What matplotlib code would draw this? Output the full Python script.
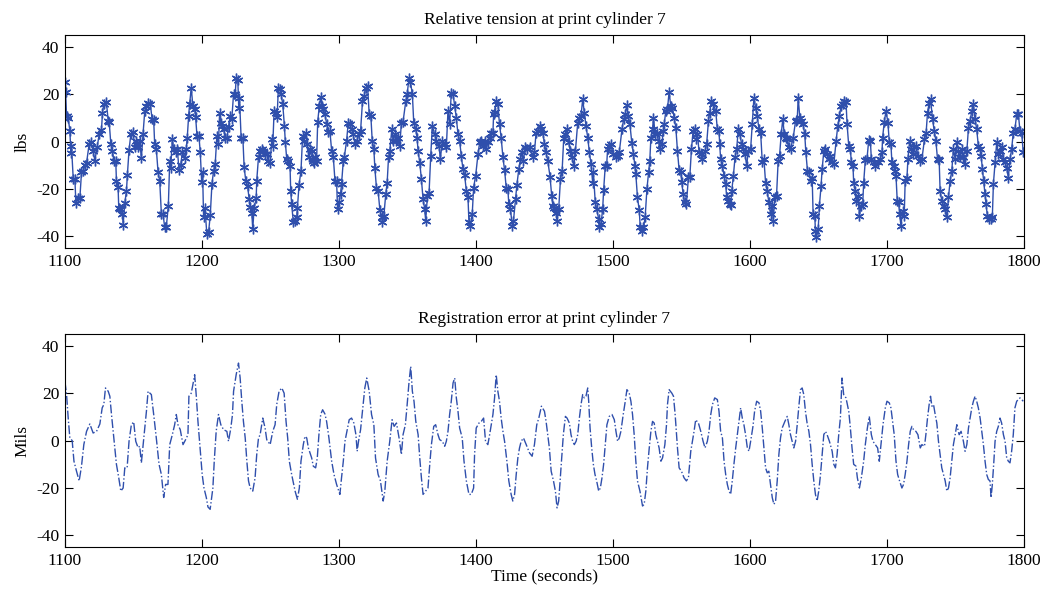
import matplotlib
matplotlib.use("Agg")
import matplotlib.pyplot as plt

# relative tension (lbs)
tension_t = [
    1100.0, 1100.5, 1101.2, 1102.4, 1103.6, 1104.4, 1104.8, 1106.1, 1107.3, 1108.0,
    1109.7, 1110.9, 1112.1, 1113.3, 1114.6, 1115.8, 1117.7, 1118.7, 1120.6, 1121.8,
    1123.5, 1125.0, 1126.7, 1127.4, 1128.4, 1130.3, 1131.6, 1132.3, 1133.5, 1134.7,
    1135.7, 1137.1, 1137.6, 1138.8, 1139.3, 1140.5, 1142.0, 1142.5, 1143.7, 1144.9,
    1145.6, 1146.8, 1148.1, 1149.8, 1151.0, 1152.2, 1153.4, 1154.6, 1155.8, 1157.0,
    1158.3, 1159.5, 1160.7, 1162.4, 1163.6, 1164.8, 1165.5, 1166.7, 1168.0, 1169.2,
    1170.4, 1171.6, 1172.8, 1174.0, 1175.5, 1176.5, 1177.2, 1178.4, 1179.4, 1180.8,
    1182.0, 1183.3, 1184.5, 1185.7, 1187.4, 1188.6, 1189.3, 1190.3, 1191.0, 1192.2,
    1193.4, 1194.7, 1195.4, 1196.4, 1197.8, 1198.8, 1199.8, 1200.5, 1201.2, 1202.2,
    1203.6, 1204.9, 1206.1, 1207.3, 1208.5, 1209.7, 1210.9, 1212.1, 1212.9, 1213.8,
    1214.6, 1215.8, 1217.0, 1218.2, 1219.4, 1220.6, 1221.8, 1223.1, 1224.3, 1225.0,
    1226.2, 1226.9, 1227.4, 1228.6, 1229.9, 1230.8, 1232.0, 1233.3, 1234.5, 1235.2,
    1236.4, 1237.1, 1238.1, 1239.6, 1240.0, 1241.3, 1242.5, 1243.7, 1244.9, 1246.1,
    1247.3, 1248.5, 1249.8, 1251.0, 1251.7, 1252.7, 1253.9, 1254.9, 1255.8, 1257.0,
    1257.8, 1259.0, 1260.2, 1260.9, 1261.9, 1263.1, 1264.3, 1264.8, 1265.5, 1266.7,
    1268.0, 1269.2, 1269.7, 1270.9, 1272.3, 1273.5, 1274.5, 1276.0, 1276.9, 1277.9,
    1278.9, 1280.1, 1280.8, 1281.8, 1282.5, 1283.7, 1284.5, 1285.7, 1286.7, 1287.6,
    1288.6, 1289.8, 1291.0, 1292.2, 1293.4, 1294.7, 1295.9, 1297.1, 1298.3, 1299.0,
    1300.0, 1301.2, 1301.9, 1303.2, 1303.9, 1305.6, 1306.8, 1308.0, 1309.2, 1310.4,
    1311.7, 1312.9, 1314.8, 1315.8, 1317.2, 1318.4, 1319.7, 1320.9, 1322.1, 1323.3,
    1324.3, 1325.5, 1326.2, 1327.4, 1328.6, 1329.9, 1331.1, 1331.8, 1332.8, 1334.2,
    1335.2, 1336.2, 1337.1, 1338.6, 1339.6, 1340.8, 1342.0, 1343.2, 1344.4, 1345.6,
    1346.8, 1348.8, 1349.8, 1351.2, 1352.2, 1353.6, 1354.6, 1356.1, 1357.0, 1357.8,
    1359.0, 1360.2, 1361.4, 1362.6, 1363.3, 1364.6, 1365.8, 1367.0, 1368.2, 1369.9,
    1371.1, 1373.1, 1374.0, 1375.5, 1377.2, 1378.4, 1379.6, 1380.8, 1382.0, 1383.3,
    1384.5, 1385.7, 1386.9, 1388.1, 1389.3, 1390.5, 1391.7, 1393.0, 1394.2, 1394.9,
    1395.9, 1397.3, 1398.3, 1399.8, 1401.5, 1402.7, 1403.9, 1405.1, 1406.3, 1407.5,
    1408.7, 1410.0, 1411.2, 1412.4, 1412.9, 1413.6, 1414.8, 1416.0, 1417.2, 1418.4,
    1419.7, 1420.9, 1422.1, 1423.3, 1424.0, 1425.2, 1426.5, 1427.4, 1428.9, 1429.9,
    1431.3, 1432.5, 1433.5, 1434.7, 1435.9, 1437.4, 1439.1, 1441.5, 1442.7, 1443.9,
    1445.1, 1446.4, 1447.6, 1448.8, 1450.0, 1451.2, 1452.4, 1454.1, 1455.3, 1456.1,
    1457.3, 1458.5, 1459.2, 1460.4, 1461.7, 1462.9, 1464.1, 1465.3, 1466.5, 1467.7,
    1468.9, 1470.1, 1471.4, 1472.6, 1474.3, 1475.5, 1476.7, 1477.9, 1479.1, 1480.3,
    1481.6, 1482.8, 1484.0, 1485.2, 1485.7, 1487.1, 1488.1, 1489.6, 1490.0, 1491.3,
    1492.5, 1493.2, 1494.4, 1495.4, 1496.1, 1497.3, 1498.5, 1500.2, 1502.2, 1503.4,
    1504.6, 1506.6, 1507.8, 1509.0, 1510.0, 1511.2, 1512.4, 1513.8, 1515.0, 1516.0,
    1516.7, 1517.9, 1519.2, 1519.9, 1521.1, 1522.3, 1523.5, 1524.8, 1526.0, 1526.9,
    1527.7, 1528.9, 1529.6, 1530.8, 1532.0, 1533.3, 1534.2, 1535.7, 1536.7, 1537.4,
    1538.6, 1539.8, 1541.0, 1542.2, 1543.4, 1544.7, 1545.9, 1547.1, 1548.3, 1549.5,
    1550.2, 1551.2, 1552.4, 1553.6, 1555.1, 1556.1, 1557.3, 1558.5, 1560.0, 1560.9,
    1561.7, 1562.9, 1564.1, 1565.3, 1567.2, 1568.4, 1569.7, 1570.6, 1571.8, 1573.3,
    1575.0, 1576.2, 1577.4, 1577.9, 1578.6, 1579.9, 1581.1, 1582.3, 1583.0, 1584.2,
    1585.2, 1585.9, 1586.7, 1587.9, 1589.1, 1590.3, 1591.5, 1592.7, 1593.9, 1595.1,
    1596.4, 1597.6, 1598.8, 1600.5, 1601.7, 1602.9, 1604.1, 1605.3, 1606.6, 1607.8,
    1609.0, 1610.2, 1611.4, 1612.6, 1613.8, 1615.0, 1616.3, 1617.0, 1618.2, 1619.4,
    1620.6, 1621.6, 1622.8, 1624.0, 1625.0, 1626.0, 1627.4, 1628.4, 1629.6, 1631.6,
    1633.3, 1634.5, 1635.2, 1636.4, 1637.6, 1638.8, 1640.0, 1640.8, 1642.0, 1643.0,
    1644.2, 1645.4, 1646.1, 1647.3, 1647.8, 1648.5, 1649.8, 1650.7, 1651.9, 1652.7,
    1653.9, 1655.1, 1656.3, 1657.5, 1658.7, 1660.0, 1661.2, 1662.9, 1664.1, 1665.3,
    1666.5, 1667.7, 1668.9, 1670.1, 1670.9, 1672.1, 1673.3, 1674.0, 1675.2, 1675.7,
    1676.9, 1677.7, 1678.9, 1679.9, 1681.1, 1682.3, 1683.0, 1684.2, 1685.4, 1686.7,
    1687.9, 1688.6, 1690.3, 1691.5, 1693.4, 1695.1, 1696.4, 1696.8, 1698.1, 1699.3,
    1700.7, 1701.7, 1702.9, 1703.6, 1704.9, 1705.6, 1706.6, 1707.5, 1708.5, 1709.2,
    1710.2, 1711.4, 1712.6, 1713.3, 1714.6, 1715.3, 1716.5, 1717.7, 1718.7, 1720.1,
    1721.1, 1722.6, 1724.3, 1725.5, 1727.4, 1728.6, 1729.6, 1730.8, 1731.8, 1733.3,
    1734.5, 1735.7, 1736.9, 1738.1, 1738.8, 1740.0, 1741.3, 1742.5, 1743.7, 1744.9,
    1746.1, 1747.3, 1748.5, 1749.8, 1751.0, 1752.2, 1753.4, 1754.6, 1755.8, 1757.0,
    1758.3, 1759.5, 1760.7, 1761.9, 1763.1, 1764.3, 1765.5, 1766.7, 1768.0, 1768.7,
    1769.7, 1770.6, 1771.6, 1772.3, 1773.3, 1774.5, 1776.0, 1776.9, 1777.7, 1778.9,
    1780.1, 1781.3, 1782.5, 1783.7, 1785.0, 1786.2, 1787.4, 1788.6, 1789.8, 1791.0,
    1792.2, 1793.4, 1794.7, 1795.9, 1797.1, 1798.3, 1799.5,
]
tension_v = [
    25, 21, 10.8, 10, 4.5, -5, -2, -16, -16, -26,
    -24, -24, -13, -12.4, -10, -9, -1, 0, -4, -8,
    -2.5, 3, 5, 12, 16, 16.5, 8.7, 8.4, -1, -4,
    -8, -8, -16.5, -19, -28, -28.5, -30.5, -35, -26, -21,
    -14, -3.6, 3, 4, -2.5, 0.3, -2.5, 0.3, -7, 3,
    13, 15, 16.4, 15.7, 9.4, 9, -1, -3, -13, -16.5,
    -30.6, -30.6, -36, -36, -27, -8, -11, 1, -3, -4.6,
    -3, -12, -10, -4.6, -7, -3, 1.7, 10.8, 15.7, 22.7,
    15, 13.6, 10.4, 2.4, 2.4, -4.6, -17, -13, -31.7, -28,
    -39, -38, -31, -18, -12.4, -9.5, 2.4, -1, 12.2, 8,
    6.6, 5.2, 1.7, 1.4, 6, 10.8, 9.4, 20.2, 20, 26.7,
    25.8, 14, 18.5, 1.7, 1.4, -10.7, -16.5, -18.7, -24.3, -27.5,
    -30, -37, -28, -24, -16.5, -6.5, -4, -3, -4, -5.3,
    -5.3, -8, -9, 1, -1.8, 13, 12.2, 10.4, 22.7, 22,
    20, 15.7, 6.6, -0.4, -7.4, -8, -10.2, -20.8, -26.4, -34,
    -33.4, -32, -28, -18.2, -12.4, 2.4, 0.3, 3.8, -1, -6.7,
    -3.2, -4, -8, -9, -6.7, -8, 8.4, 15, 18.8, 15,
    13.6, 11.5, 7.6, 4.2, 4.5, -4, -6.5, -16.5, -16.8, -28.5,
    -25.7, -22, -18, -8, -6.7, 0.3, 8, 7.3, 5.2, 3,
    -1, 0.3, 3, 4.5, 17, 19.2, 22.7, 23.4, 11.5, 10.8,
    0.3, -3.2, -11, -19.6, -20.8, -29, -31.7, -34, -31.3, -22,
    -17.3, -6.7, -4, 5.2, 0.3, 3, 0.3, 1.7, -1.8, 8,
    8.4, 17, 20, 27, 25, 20, 8, 5.2, 1.7, -4,
    -9, -15.9, -24.3, -28.5, -33.4, -23, -21.5, -6, 6.6, 3,
    0.3, -1.8, -7.4, 0.3, -1.1, -2.5, 13, 7.3, 20.6, 20,
    15, 10, 3, 0.3, -6, -11.6, -14, -20.8, -23.6, -34,
    -35.5, -30.6, -19.4, -14.4, -5.3, -0.4, 0.3, -1.8, 0.3, -3.2,
    -0.4, 1.7, 3.8, 3.8, 11.5, 12.6, 17, 15.7, 7.3, 1.7,
    -6.7, -12, -19.4, -20, -26.4, -28.5, -35.5, -33.4, -24.3, -18.2,
    -11.6, -7.4, -4.6, -8, -2.2, -3.2, -2.5, -6.7, -4.6, 3.8,
    4.5, 6.6, 5.2, 3.8, -1, -4.6, -8, -14.9, -23, -27,
    -28, -30, -33.4, -28.5, -15.9, -12.4, 1.7, 3, 5.2, -0.4,
    -4, -6.7, -10.2, -4, 8, 10, 10.8, 17.8, 12.2, 6.6,
    1.7, -4.6, -9.5, -17.3, -13, -25.7, -28.5, -32.7, -36.2, -34.8,
    -28.5, -20.5, -10.2, -10.2, -3.2, -1.8, -1.1, -5.3, -6.7, -6,
    -4.6, 5.2, 9.4, 11.5, 15.4, 10.8, 7.3, -0.8, -5.3, -10.2,
    -13.8, -23.6, -29, -36, -37.6, -36.2, -32, -20, -13, -8,
    1.7, 5.2, 10, 3, 3.8, 0.3, -3.2, -1.1, 4.5, 7.3,
    13, 13.6, 21, 15, 14.3, 9.8, 5.9, -4, -12, -13,
    -17, -22, -25.7, -26.4, -15, -14.9, -3.2, 4.5, 5.2, 1,
    3, -4.6, -5.3, -7.4, -4, -1, 8.7, 12.2, 17, 15.7,
    13, 5.2, 4.5, -1, -7.4, -10.2, -14.5, -18, -23.6, -25,
    -26.4, -26.7, -20.8, -14.5, -6.7, -3.2, 5.2, 3, -1.1, -3.2,
    -5.3, -10.2, -4, -3.2, 7.3, 18.5, 14.3, 10.8, 5.2, 3.8,
    -8.8, -7.4, -17.3, -20.8, -25.7, -30.6, -27, -33.4, -23.3, -22.9,
    -8, -6, 3, 9.7, 3, 1.7, 1, -2.5, -3.2, 1.7,
    8.7, 9, 18.5, 10, 8.7, 7.3, 3, -4.6, -12.4, -13,
    -16.5, -15.2, -30.6, -31.3, -37.6, -40.4, -37, -27, -18.7, -11.6,
    -4, -3.2, -5.3, -7.4, -6, -8.8, -9.5, 0.3, 6.6, 10.8,
    15, 15.7, 17, 16.8, 7.3, -1.8, -3.2, -8.8, -10.2, -17.3,
    -20.8, -25, -22.9, -31.3, -27, -26.4, -17.3, -7.9, -7.4, 0.6,
    0.3, -7.4, -8.8, -10.2, -8.8, -7.4, -4.6, 1.7, 8.4, 13,
    8, -0.4, -1.1, -8.8, -10.2, -12.4, -14.5, -25, -25.7, -30.6,
    -35.5, -29.2, -31.3, -16.5, -15.2, -7.4, 0.3, -3.2, -5.3, -2.5,
    -1.8, -6, -8, -7.4, 1, 3.8, 12.2, 16.4, 17.8, 9.4,
    4.5, 0.3, -7.4, -7.9, -20.8, -25, -27, -28.5, -32, -23.6,
    -16.5, -12.4, -3.2, -7.4, -0.4, -4, -6.7, -3.2, -6.7, -9.5,
    -4, 5.9, 8.7, 13, 15.7, 9.4, 5.2, -1.8, -3.2, -6,
    -11.6, -16.5, -22, -26.4, -31.3, -32.7, -32.7, -32, -17.7, -8.8,
    -0.4, -5.3, -4, -2.5, -7.4, -8.8, -11, -15.2, -7.4, -3.2,
    3.8, 5.2, 11.5, 11.5, 4.5, 3.8, -4.6,
]

# registration error (mils)
error_t = [
    1100.0, 1101.2, 1102.4, 1103.6, 1105.3, 1106.6, 1108.5, 1110.4, 1112.1, 1113.8,
    1115.8, 1118.2, 1120.6, 1123.1, 1125.5, 1127.2, 1128.4, 1129.6, 1131.6, 1132.8,
    1134.0, 1135.7, 1137.6, 1139.3, 1140.8, 1142.5, 1143.7, 1145.4, 1146.8, 1148.5,
    1150.2, 1151.7, 1153.4, 1154.6, 1155.8, 1157.8, 1159.5, 1160.7, 1163.1, 1164.8,
    1166.7, 1168.7, 1170.4, 1172.1, 1173.5, 1175.2, 1176.5, 1178.4, 1180.1, 1181.3,
    1182.5, 1184.2, 1186.2, 1188.1, 1189.8, 1190.5, 1192.2, 1193.4, 1194.7, 1195.9,
    1197.1, 1198.8, 1200.2, 1201.5, 1203.2, 1204.4, 1206.0, 1208.0, 1209.0, 1210.4,
    1212.1, 1213.8, 1215.8, 1218.2, 1219.4, 1221.1, 1222.3, 1223.1, 1225.0, 1226.7,
    1227.9, 1229.1, 1230.3, 1231.6, 1232.8, 1234.0, 1235.2, 1237.1, 1238.8, 1240.0,
    1241.3, 1242.5, 1244.4, 1246.1, 1247.3, 1249.8, 1251.7, 1253.4, 1254.6, 1256.3,
    1258.3, 1260.0, 1261.4, 1262.6, 1263.8, 1265.5, 1268.0, 1269.7, 1271.1, 1272.3,
    1274.0, 1275.2, 1276.5, 1277.7, 1280.1, 1281.3, 1283.0, 1284.2, 1285.4, 1286.7,
    1288.1, 1289.8, 1291.0, 1292.7, 1294.7, 1296.4, 1298.3, 1300.7, 1301.9, 1303.2,
    1304.4, 1305.6, 1307.5, 1309.2, 1310.9, 1312.4, 1313.3, 1314.3, 1315.8, 1317.2,
    1318.9, 1320.3, 1322.1, 1323.8, 1325.5, 1326.7, 1328.6, 1330.3, 1332.3, 1333.5,
    1335.2, 1337.1, 1338.8, 1340.3, 1342.0, 1343.9, 1345.6, 1346.8, 1348.5, 1349.8,
    1351.2, 1352.4, 1353.6, 1354.8, 1356.1, 1357.8, 1359.0, 1360.2, 1361.4, 1363.3,
    1365.0, 1366.3, 1367.5, 1369.2, 1370.6, 1372.3, 1373.5, 1375.5, 1377.2, 1378.4,
    1379.6, 1380.8, 1382.0, 1383.3, 1384.5, 1385.7, 1386.9, 1388.1, 1390.0, 1391.3,
    1393.0, 1394.9, 1396.6, 1398.3, 1399.0, 1400.2, 1402.2, 1403.9, 1405.6, 1407.0,
    1408.7, 1410.0, 1411.2, 1412.4, 1413.6, 1414.8, 1416.0, 1417.2, 1418.4, 1419.7,
    1420.9, 1422.6, 1424.0, 1425.7, 1426.9, 1428.2, 1429.4, 1430.6, 1431.8, 1433.0,
    1434.7, 1436.7, 1439.1, 1441.0, 1442.7, 1444.4, 1445.9, 1447.8, 1450.0, 1451.2,
    1452.4, 1453.6, 1454.9, 1456.6, 1458.0, 1459.2, 1460.4, 1461.4, 1462.6, 1463.8,
    1465.3, 1466.5, 1468.2, 1469.4, 1470.6, 1471.8, 1473.1, 1474.3, 1475.5, 1476.7,
    1477.9, 1479.1, 1480.3, 1481.6, 1482.3, 1483.3, 1484.5, 1485.7, 1486.9, 1488.1,
    1489.6, 1490.8, 1492.0, 1493.2, 1494.4, 1495.6, 1497.3, 1499.3, 1501.0, 1502.2,
    1503.4, 1504.6, 1505.8, 1507.5, 1509.0, 1510.2, 1511.9, 1513.1, 1514.3, 1515.5,
    1516.7, 1517.9, 1519.7, 1521.6, 1522.8, 1524.0, 1525.2, 1526.5, 1527.7, 1528.9,
    1530.1, 1531.3, 1532.5, 1533.7, 1535.0, 1536.2, 1537.9, 1539.1, 1539.8, 1541.0,
    1543.0, 1544.2, 1545.4, 1547.1, 1548.3, 1550.0, 1551.9, 1553.6, 1555.1, 1556.8,
    1558.0, 1559.2, 1560.4, 1562.4, 1564.1, 1565.8, 1567.2, 1568.9, 1570.1, 1571.4,
    1572.6, 1574.3, 1576.2, 1577.4, 1578.6, 1579.9, 1581.1, 1582.3, 1583.5, 1584.7,
    1585.9, 1587.1, 1588.3, 1589.6, 1590.8, 1592.0, 1593.2, 1594.4, 1595.6, 1596.8,
    1598.1, 1599.3, 1600.5, 1602.2, 1603.4, 1604.9, 1606.6, 1607.8, 1609.0, 1610.2,
    1611.4, 1612.6, 1613.8, 1615.0, 1616.3, 1617.5, 1618.7, 1619.9, 1621.1, 1622.3,
    1623.5, 1625.5, 1627.2, 1628.4, 1629.6, 1630.8, 1632.0, 1633.3, 1634.5, 1635.7,
    1636.9, 1638.1, 1639.3, 1640.5, 1641.7, 1643.0, 1644.2, 1645.4, 1646.6, 1647.8,
    1649.0, 1650.2, 1651.5, 1652.7, 1653.9, 1655.1, 1656.3, 1658.0, 1660.0, 1661.2,
    1662.4, 1663.6, 1664.8, 1666.0, 1667.2, 1668.4, 1670.1, 1672.1, 1673.3, 1674.5,
    1675.7, 1677.4, 1678.4, 1679.9, 1681.3, 1683.0, 1684.2, 1685.7, 1687.1, 1688.6,
    1689.8, 1691.5, 1693.2, 1694.4, 1695.6, 1697.1, 1698.8, 1700.0, 1701.7, 1702.9,
    1704.1, 1705.3, 1706.6, 1707.8, 1709.2, 1710.9, 1712.1, 1713.3, 1714.6, 1715.8,
    1717.0, 1718.2, 1719.4, 1721.1, 1722.6, 1724.3, 1725.5, 1727.4, 1728.4, 1729.6,
    1730.8, 1731.8, 1732.8, 1734.0, 1735.2, 1736.4, 1737.6, 1738.8, 1740.0, 1741.3,
    1742.5, 1743.7, 1744.9, 1746.1, 1747.3, 1748.5, 1749.8, 1751.0, 1752.7, 1754.1,
    1755.8, 1757.0, 1758.3, 1759.5, 1760.7, 1761.9, 1763.1, 1764.3, 1765.5, 1766.7,
    1768.0, 1769.2, 1770.4, 1771.6, 1772.8, 1774.0, 1775.2, 1776.0, 1776.9, 1777.9,
    1778.9, 1780.1, 1781.3, 1782.5, 1783.7, 1785.0, 1786.2, 1787.4, 1788.6, 1789.8,
    1791.0, 1792.2, 1793.4, 1794.7, 1797.1, 1799.5,
]
error_v = [
    25, 19.4, 9.5, 1.1, 0, -8.7, -13, -17, -10.8, -1.7,
    3.9, 7, 3.2, 3.9, 7, 13.8, 15.2, 22.2, 20.8, 18.7,
    11, 1.1, -10, -15.7, -21.3, -20, -11.5, -11.5, -0.3, 6.7,
    7.9, -0.3, -3, -2.4, -9.4, 2.5, 12.4, 20.8, 19.4, 11,
    1.1, -10, -14.3, -24, -18.5, -18.5, -1.7, 2.5, 6.7, 11,
    6.7, 4.6, -1.7, 0.4, 2.5, 18.7, 20, 23.6, 27.8, 18.7,
    8.1, -4.5, -14.3, -20, -24, -28, -29, -20, -8.7, 3.9,
    11, 6.7, 4.6, 3.9, -0.3, 5.3, 11, 20.8, 27.8, 32.7,
    26.4, 16.6, 8.1, 1.1, -8.7, -17, -20, -21.3, -15.7, -5.9,
    1.1, 2.5, 9.5, 5.3, 0.4, -1.7, 3.9, 6.7, 15.2, 20.8,
    22.2, 20, 8.1, 1.1, -8.7, -14.3, -21.3, -24.8, -20, -8.7,
    -1.7, 1.8, 1.1, -3.1, -7.3, -10.8, -11.5, -7.3, 2.5, 11,
    13, 11.2, 8.1, 1.1, -8.7, -14.3, -18.5, -22.7, -15.7, -8.7,
    -0.3, 3.2, 8.8, 9.5, 7.4, 2.5, -4.5, -0.3, 4.6, 12.4,
    22.2, 26.4, 20.8, 11, 6.7, -7.3, -14.3, -17, -25.5, -21.3,
    -8.7, -0.3, 8.8, 6, 7.4, 1.1, -5.9, 2.5, 6.7, 15.2,
    25, 31.3, 20.8, 16.6, 8.1, 2.5, -7.3, -15.7, -22.7, -21.3,
    -20, -10, -1.7, 6, 6.7, 2.5, 0.4, -0.3, -2.4, -0.3,
    3.9, 11, 16.6, 24.3, 26.4, 18, 12.4, 5.3, 1.1, -8.7,
    -17, -22.7, -22.7, -20, -5.9, 5.3, 7.4, 8.1, 9.5, -0.3,
    -1.7, 2.5, 6.7, 11, 18, 27.8, 20.8, 16.6, 9.5, 3.9,
    -0.3, -8.7, -17, -22.7, -25.5, -22.7, -14.3, -7.3, -3.1, -0.3,
    1.1, -1.7, -5.2, -6.6, -1.7, 6.7, 9.5, 14.5, 12.4, 8.1,
    2.5, -3.1, -12.9, -17, -21.3, -28.4, -25.5, -17, -7.3, 2.5,
    10.2, 9.5, 7.4, 2.5, -0.3, -1.7, -0.3, 2.5, 9.5, 15.2,
    19.4, 18, 18.7, 22.2, 16.6, 5.3, -3.1, -10, -14.3, -17,
    -21.3, -20, -15.7, -10, -1.7, 6.7, 10.2, 11, 8.8, 3.9,
    -0.3, 1.1, 3.9, 11, 16.6, 21.5, 20, 16.6, 11, 2.5,
    -8.7, -17, -21.3, -27.6, -26.9, -21.3, -11.5, -3.1, 3.9, 8.1,
    7.4, 2.5, -0.3, -3.1, -8.7, -7.3, -1.7, 6.7, 15.2, 21.5,
    20, 18.7, 11, -3.1, -11.5, -12.9, -15.7, -17, -15.7, -4.5,
    -0.3, 3.9, 8.8, 7.4, 3.9, -0.3, -3.1, -0.3, 3.9, 11,
    15.2, 18, 17.3, 12.4, 3.9, 1.1, -8.7, -14.3, -18.5, -21.3,
    -22.7, -17, -10, -3.1, 2.5, 8.1, 13.8, 9.5, 6.7, 2.5,
    -3.1, -4.5, -0.3, 6, 12.4, 16.6, 15.9, 12.4, 5.3, -3.1,
    -11.5, -13.6, -12.9, -18.5, -24.1, -26.9, -25.5, -17, -5.9, 1.1,
    5.3, 8.1, 10.2, 6.7, 2.5, -0.3, -3.1, -0.3, 6.7, 14.5,
    21.5, 22.2, 19.4, 12.4, 7.4, 3.9, -1.7, -10, -17, -22.7,
    -25.5, -21.3, -14.3, -5.9, 2.5, 3.9, 2.5, -0.3, -4.5, -10,
    -11.5, -5.9, 2.5, 9.5, 26.4, 19.4, 18, 12.4, 5.3, -3.1,
    -10, -10.8, -15.7, -20, -15.7, -8.7, -1.7, 5.3, 10.2, 2.5,
    -0.3, -1.7, -3.1, -8.7, -1.7, 6.7, 13.8, 16.6, 15.9, 13.8,
    8.1, 2.5, -8.7, -14.3, -17, -20, -18.5, -14.3, -8.7, -1.7,
    3.9, 6, 4.6, 3.9, 2.5, -3.1, -1.7, -2.4, 2.5, 9.5,
    15.2, 18.7, 14.5, 15.2, 11, 7.4, -0.3, -5.9, -11.5, -14.3,
    -17, -21.3, -20, -15.7, -8.7, -1.7, 2.5, 6.7, 2.5, 3.9,
    -0.3, -4.5, -1.7, 5.3, 9.5, 13.8, 16.6, 18.7, 16.6, 13.8,
    9.5, 3.9, -1.7, -8.7, -14.3, -16.4, -17, -24.1, -18.5, -10,
    -0.3, 3.9, 6, 9.5, 7.4, 2.5, -0.3, -7.3, -8.7, -9.4,
    -4.5, 2.5, 13.8, 16.6, 18, 16.6,
]

line_color = '#2f4fac'

plt.rcParams['font.family'] = ['Liberation Serif', 'DejaVu Serif']
plt.rcParams['font.size'] = 12
plt.rcParams['axes.unicode_minus'] = False

fig = plt.figure(figsize=(10.47, 5.91), dpi=100)
ax1 = fig.add_axes([0.062, 0.580, 0.916, 0.361])
ax2 = fig.add_axes([0.062, 0.074, 0.916, 0.361])

# asterisk marker like MATLAB's '*'
ax1.plot(tension_t, tension_v, color=line_color, linewidth=1.0,
         marker=(6, 2, 0), markersize=7, markeredgewidth=1.0)
ax2.plot(error_t, error_v, color=line_color, linewidth=1.0, linestyle='-.')

ax1.set_title('Relative tension at print cylinder 7', fontsize=12.5, pad=8)
ax2.set_title('Registration error at print cylinder 7', fontsize=12.5, pad=8)
ax1.set_ylabel('lbs', fontsize=12.5, labelpad=4)
ax2.set_ylabel('Mils', fontsize=12.5, labelpad=4)
ax2.set_xlabel('Time (seconds)', fontsize=12.5, labelpad=0)

for ax in (ax1, ax2):
    ax.set_xlim(1100, 1800)
    ax.set_ylim(-45, 45)
    ax.set_xticks(range(1100, 1801, 100))
    ax.set_yticks([-40, -20, 0, 20, 40])
    ax.tick_params(direction='in', top=True, right=True, length=6, width=0.8,
                   labelsize=12.5, pad=4)
    for s in ax.spines.values():
        s.set_linewidth(0.8)

fig.savefig('out.png', dpi=100)
